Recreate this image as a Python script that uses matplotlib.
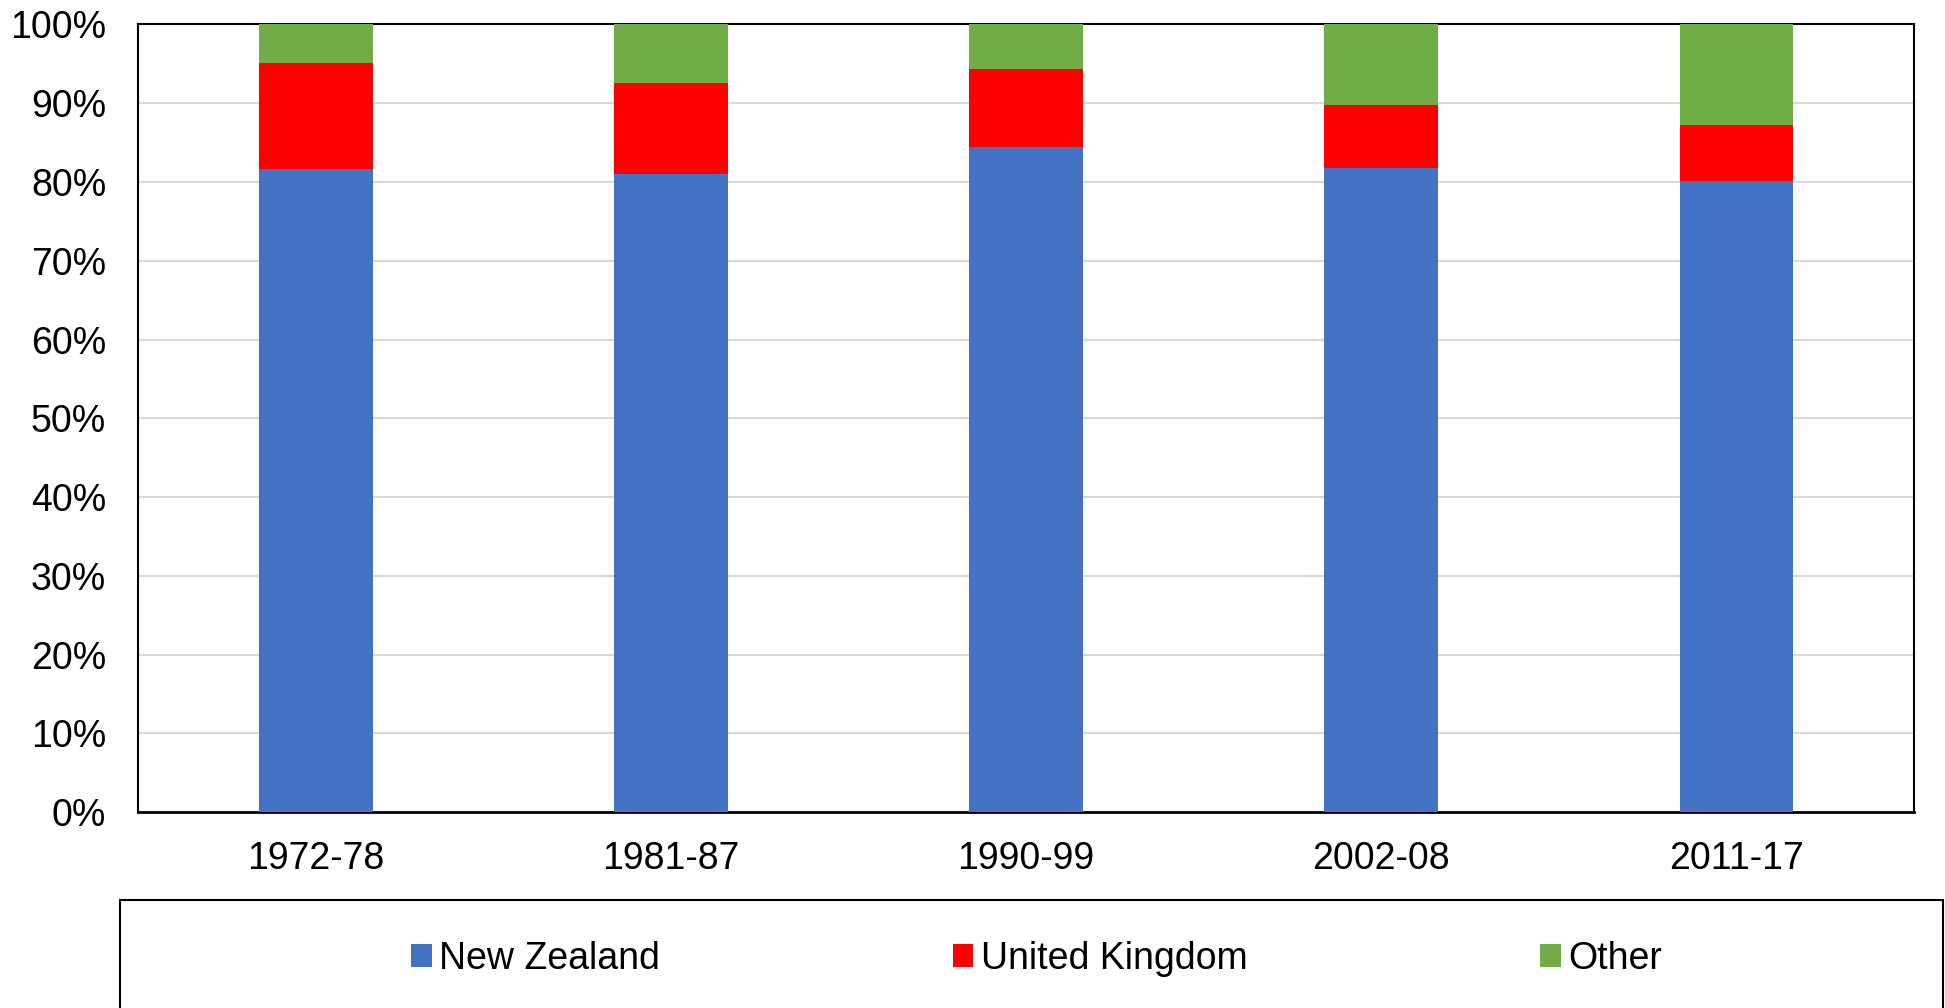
import matplotlib
matplotlib.use("Agg")
import matplotlib.pyplot as plt
from matplotlib.patches import Rectangle
import numpy as np

plt.rcParams['font.family'] = ['Liberation Sans', 'DejaVu Sans']

categories = ["1972-78", "1981-87", "1990-99", "2002-08", "2011-17"]
new_zealand = [81.7, 81.0, 84.4, 81.8, 80.1]
united_kingdom = [13.4, 11.6, 10.0, 8.0, 7.1]
other = [4.9, 7.4, 5.6, 10.2, 12.8]
series_names = ["New Zealand", "United Kingdom", "Other"]
colors = ["#4472C4", "#FF0000", "#70AD47"]
yticks = list(range(0, 101, 10))

fig = plt.figure(figsize=(19.45, 10.08), dpi=100)
ax = fig.add_axes([0.0710, 0.1944, 0.9131, 0.7813])

x = np.arange(len(categories))
width = 0.32
bottom = np.zeros(len(categories))
handles = []
for vals, name, c in zip([new_zealand, united_kingdom, other], series_names, colors):
    b = ax.bar(x, vals, width, bottom=bottom, color=c, label=name, zorder=3)
    handles.append(b)
    bottom += np.array(vals)

ax.set_xlim(-0.5, len(categories) - 0.5)
ax.set_ylim(0, 100)
ax.set_yticks(yticks)
ax.set_yticklabels([f"{t}%" for t in yticks])
ax.set_xticks(x)
ax.set_xticklabels(categories)
ax.tick_params(axis='both', length=0, labelsize=27)
ax.tick_params(axis='y', pad=23)
ax.tick_params(axis='x', pad=21)
ax.yaxis.grid(True, color='#d9d9d9', linewidth=1.5, zorder=0)
ax.set_axisbelow(True)
for s in ax.spines.values():
    s.set_color('black')
    s.set_linewidth(1.5)
ax.spines['bottom'].set_linewidth(2)

# legend box
fig.patches.append(Rectangle((0.0617, -0.02), 0.9373, 0.1271, transform=fig.transFigure,
                             fill=False, edgecolor='black', linewidth=1.5))
fig.legend(handles=handles, labels=series_names, loc='center', bbox_to_anchor=(0.533, 0.049),
           ncol=3, frameon=False, fontsize=27, handlelength=0.55, handleheight=0.55,
           handletextpad=0.2, columnspacing=7.8)

fig.savefig("out.png", dpi=100)
